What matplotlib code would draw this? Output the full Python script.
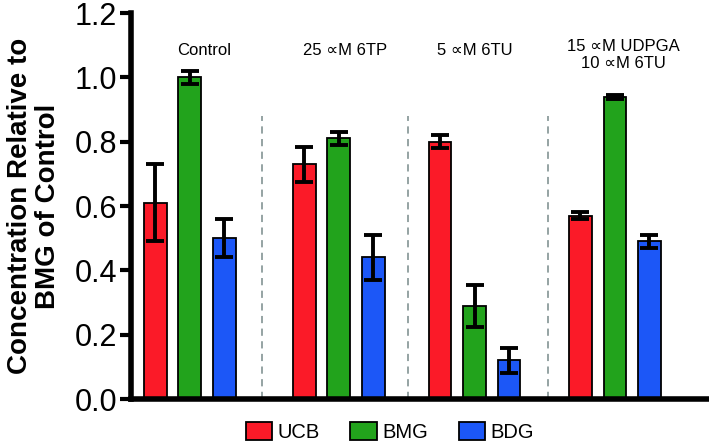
import numpy as np
import matplotlib.pyplot as plt
from matplotlib.patches import Patch

plt.rcParams['font.family'] = ['Liberation Sans', 'DejaVu Sans']

# Données
groupes = ["Control", "25 \u221dM 6TP", "5 \u221dM 6TU", "15 \u221dM UDPGA\n10 \u221dM 6TU"]
series = ["UCB", "BMG", "BDG"]
ucb = [0.61, 0.73, 0.80, 0.57]
ucb_err = [0.12, 0.055, 0.02, 0.01]
bmg = [1.00, 0.81, 0.29, 0.94]
bmg_err = [0.02, 0.02, 0.065, 0.006]
bdg = [0.50, 0.44, 0.12, 0.49]
bdg_err = [0.06, 0.07, 0.04, 0.02]

couleurs = ["#fb1a28", "#22a31c", "#1c57f7"]

# position de départ de chaque groupe (unité = écart entre barres)
depart = np.array([0.0, 4.32, 8.26, 12.33])
separations = [3.10, 7.33, 11.39]

fig = plt.figure(figsize=(7.09, 4.41), dpi=100)
ax = fig.add_axes([0.185, 0.0952, 0.815, 0.8753])

for i, (vals, errs) in enumerate([(ucb, ucb_err), (bmg, bmg_err), (bdg, bdg_err)]):
    ax.bar(depart + i, vals, width=0.66, color=couleurs[i], edgecolor="black",
           linewidth=1.3, zorder=2)
    ax.errorbar(depart + i, vals, yerr=errs, fmt="none", ecolor="black",
                elinewidth=2.8, capsize=6.5, capthick=2.8, zorder=3)

for x in separations:
    ax.plot([x, x], [0, 0.88], color="#8c9c9c", linestyle=(0, (4, 3)),
            linewidth=1.3, zorder=1)

decal = [0.43, 0.17, 0.0, 0.26]
for j, nom in enumerate(groupes):
    y = 1.085 if "\n" not in nom else 1.07
    ax.text(depart[j] + 1 + decal[j], y, nom, ha="center", va="center",
            fontsize=12, linespacing=1.15)

ax.set_xlim(-0.70, 16.06)
ax.set_ylim(0, 1.2)
ax.set_yticks(np.arange(0, 1.21, 0.2))
ax.set_yticklabels([f"{v:.1f}" for v in np.arange(0, 1.21, 0.2)])
ax.tick_params(axis="y", labelsize=22, width=3, length=8, pad=2)
ax.set_xticks([])
ax.spines["top"].set_visible(False)
ax.spines["right"].set_visible(False)
ax.spines["left"].set_linewidth(4)
ax.spines["bottom"].set_linewidth(4)
ax.set_ylabel("Concentration Relative to\nBMG of Control", fontsize=20,
              fontweight="bold", linespacing=1.1, va="center")
ax.yaxis.set_label_coords(-0.168, 0.5)

poignees = [Patch(facecolor=c, edgecolor="black", linewidth=1.3) for c in couleurs]
fig.legend(poignees, series, loc="center", bbox_to_anchor=(0.55, 0.02),
           ncol=3, frameon=False, fontsize=14.5, handlelength=1.3,
           handleheight=0.95, handletextpad=0.3, columnspacing=1.5)

fig.savefig("out.png", dpi=100)
